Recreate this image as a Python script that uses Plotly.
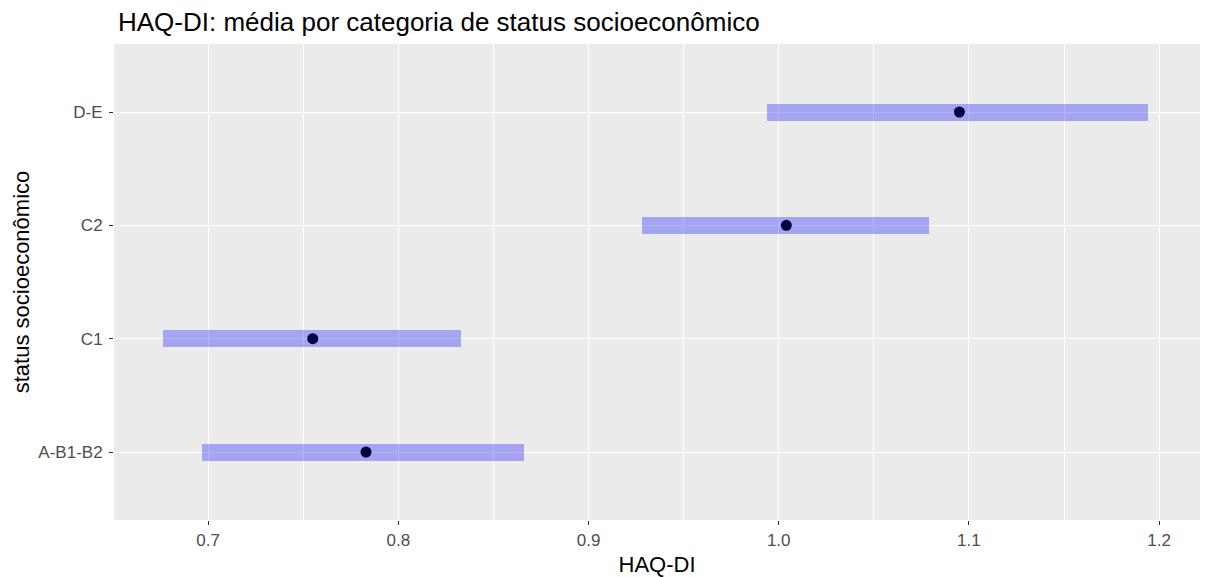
import plotly.graph_objects as go

categories = ["A-B1-B2", "C1", "C2", "D-E"]
mean_vals = [0.783, 0.755, 1.004, 1.095]
lower_vals = [0.697, 0.676, 0.928, 0.994]
upper_vals = [0.866, 0.833, 1.079, 1.194]

fig = go.Figure()
fig.add_trace(go.Bar(
    y=categories,
    x=[u - l for u, l in zip(upper_vals, lower_vals)],
    base=lower_vals,
    orientation="h",
    width=0.15,
    marker=dict(color="rgba(0,0,255,0.3)", line=dict(width=0)),
    showlegend=False,
    hoverinfo="skip",
))
fig.add_trace(go.Scatter(
    y=categories,
    x=mean_vals,
    mode="markers",
    marker=dict(color="#000040", size=11, line=dict(width=0)),
    showlegend=False,
))

fig.update_layout(
    width=1211, height=577,
    margin=dict(l=114, r=11, t=44, b=57),
    paper_bgcolor="white",
    plot_bgcolor="#EBEBEB",
    font=dict(family="Liberation Sans, Arial, sans-serif", color="#000000"),
    title=dict(text="HAQ-DI: média por categoria de status socioeconômico",
               x=118 / 1211, xanchor="left", y=1 - 22 / 577, yanchor="middle",
               font=dict(size=26, color="#000000")),
    xaxis=dict(
        range=[0.6505, 1.2215],
        tick0=0.7, dtick=0.1, tickformat=".1f",
        showgrid=True, gridcolor="white", gridwidth=1.3,
        minor=dict(dtick=0.05, showgrid=True, gridcolor="white", gridwidth=0.6),
        zeroline=False,
        automargin=False,
        ticks="outside", ticklen=4, tickcolor="#333333", tickwidth=1,
        tickfont=dict(size=17, color="#4D4D4D"),
        ticklabelstandoff=1,
        title=dict(text="HAQ-DI", font=dict(size=22, color="#000000"), standoff=11),
    ),
    yaxis=dict(
        type="category",
        categoryorder="array", categoryarray=categories,
        range=[-0.6, 3.6],
        showgrid=True, gridcolor="white", gridwidth=1.3,
        zeroline=False,
        automargin=False,
        ticks="outside", ticklen=4, tickcolor="#333333", tickwidth=1,
        tickfont=dict(size=17, color="#4D4D4D"),
        ticklabelstandoff=3,
        title=dict(text="status socioeconômico", font=dict(size=22, color="#000000"), standoff=2),
    ),
    bargap=0,
)

fig.write_html("out.html")
